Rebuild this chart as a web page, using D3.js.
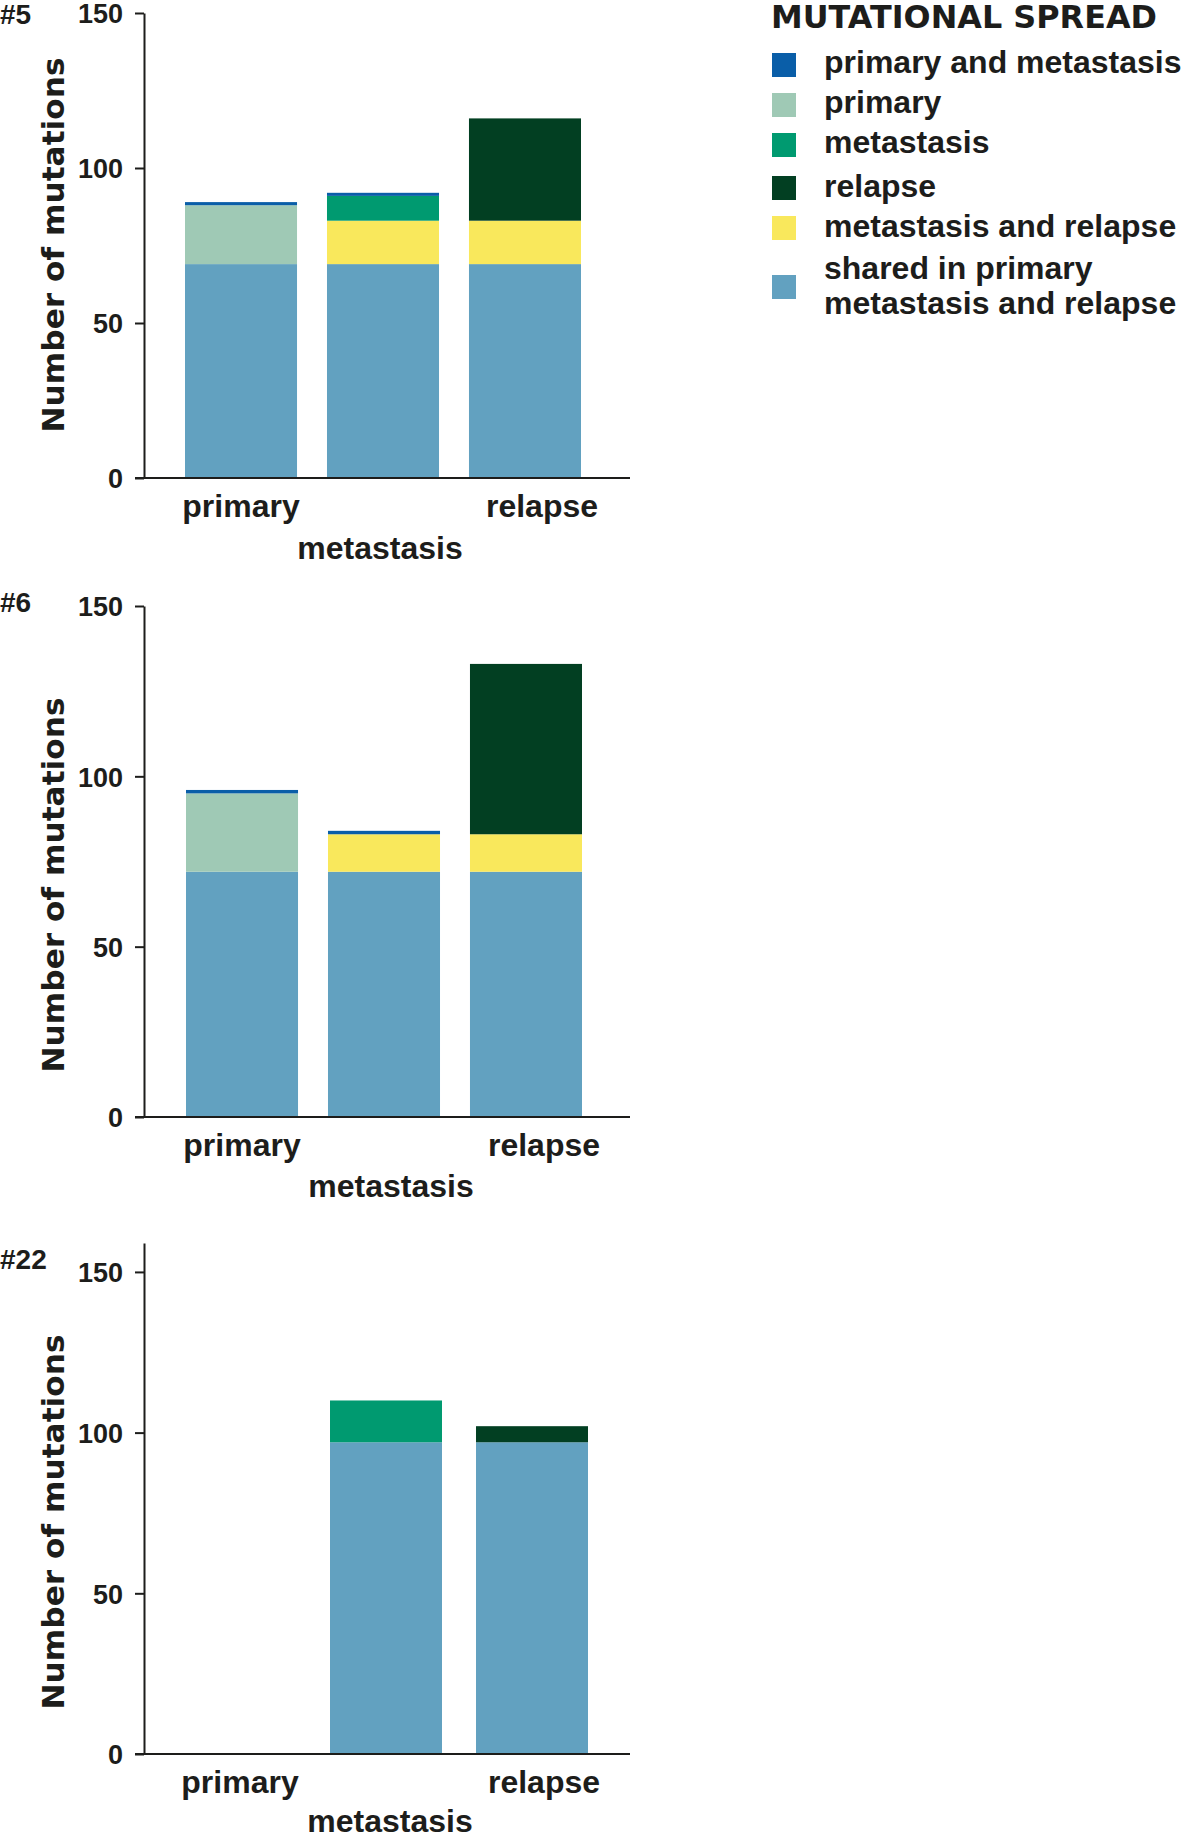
<!DOCTYPE html>
<html>
<head>
<meta charset="utf-8">
<script src="https://cdn.jsdelivr.net/npm/d3@7"></script>
<style>
  html, body { margin: 0; padding: 0; background: #ffffff; }
  svg { display: block; }
</style>
</head>
<body>
<svg id="chart" width="1181" height="1839"></svg>
<script>
// ---------------- DATA ----------------
const categories = ["primary", "metastasis", "relapse"];
const panelNames = ["#5", "#6", "#22"];
const yTicks = [0, 50, 100, 150];

// series values per panel, per category [primary, metastasis, relapse]
const sharedAll   = [[69, 69, 69], [72, 72, 72], [0, 97, 97]];
const metAndRel   = [[0, 14, 14], [0, 11, 11], [0, 0, 0]];
const relapseOnly = [[0, 0, 33], [0, 0, 50], [0, 0, 5]];
const metOnly     = [[0, 8, 0], [0, 0, 0], [0, 13, 0]];
const primaryOnly = [[19, 0, 0], [23, 0, 0], [0, 0, 0]];
const primAndMet  = [[1, 1, 0], [1, 1, 0], [0, 0, 0]];

// legend (top to bottom)
const legendKeys = ["primAndMet", "primaryOnly", "metOnly", "relapseOnly", "metAndRel", "sharedAll"];
const legendLabels = [
  ["primary and metastasis"],
  ["primary"],
  ["metastasis"],
  ["relapse"],
  ["metastasis and relapse"],
  ["shared in primary", "metastasis and relapse"]
];
const legendTitle = "MUTATIONAL SPREAD";
const yLabel = "Number of mutations";

// ---------------- STYLE / LAYOUT ----------------
const colors = {
  primAndMet: "#0a5ea8",
  primaryOnly: "#9fc9b5",
  metOnly: "#009a70",
  relapseOnly: "#023f22",
  metAndRel: "#f9e85c",
  sharedAll: "#62a1c0"
};
const ink = "#1d1d1b";
const series = { sharedAll, metAndRel, relapseOnly, metOnly, primaryOnly, primAndMet };
const stackKeys = legendKeys.slice().reverse(); // bottom-up

const axisX = 144;
const xAxisEnd = 630;
const layout = [
  { top: 13,   zero: 478,  yMax: 150, band: [185, 581], padInner: 0.211, labelCy: 245,  nameBase: 24,   shifts: [0, -3, 17], metDy: 81 },
  { top: 606,  zero: 1117, yMax: 150, band: [186, 582], padInner: 0.211, labelCy: 885,  nameBase: 612,  shifts: [0, 7, 18],  metDy: 80 },
  { top: 1243, zero: 1754, yMax: 159, band: [184, 588], padInner: 0.233, labelCy: 1522, nameBase: 1269, shifts: [0, 4, 12],  metDy: 78 }
];

const svg = d3.select("#chart");
const fontArial = "'Liberation Sans', Arial, Helvetica, sans-serif";
const fontWide = "'DejaVu Sans', Verdana, sans-serif";

layout.forEach((L, pi) => {
  const g = svg.append("g");
  const y = d3.scaleLinear().domain([0, L.yMax]).range([L.zero, L.top]);
  const x = d3.scaleBand().domain(categories).range(L.band).paddingInner(L.padInner).paddingOuter(0);

  const rows = categories.map((c, ci) => {
    const r = { category: c };
    stackKeys.forEach(k => { r[k] = series[k][pi][ci]; });
    return r;
  });
  const stacked = d3.stack().keys(stackKeys)(rows);

  g.selectAll("g.layer").data(stacked).join("g")
    .attr("class", "layer")
    .attr("fill", d => colors[d.key])
    .selectAll("rect").data(d => d).join("rect")
    .attr("x", d => x(d.data.category))
    .attr("width", x.bandwidth())
    .attr("y", d => y(d[1]))
    .attr("height", d => Math.max(0, y(d[0]) - y(d[1])));

  // y axis
  const yAxis = d3.axisLeft(y).tickValues(yTicks).tickSize(9).tickSizeOuter(0).tickPadding(12);
  const ga = g.append("g").attr("transform", `translate(${axisX},0)`).call(yAxis);
  ga.attr("font-family", null).attr("font-size", null);
  ga.select(".domain").attr("stroke", ink).attr("stroke-width", 2);
  ga.selectAll(".tick line").attr("stroke", ink).attr("stroke-width", 2);
  ga.selectAll(".tick text")
    .attr("fill", ink)
    .style("font-family", fontArial)
    .style("font-weight", "bold")
    .style("font-size", "27px")
    .attr("dy", "0.36em");

  // x baseline
  g.append("line")
    .attr("x1", axisX - 9).attr("x2", xAxisEnd)
    .attr("y1", y(0)).attr("y2", y(0))
    .attr("stroke", ink).attr("stroke-width", 2);

  // x category labels (middle one on second line)
  g.selectAll("text.xlab").data(categories).join("text")
    .attr("class", "xlab")
    .attr("x", (d, i) => x(d) + x.bandwidth() / 2 + L.shifts[i])
    .attr("y", (d, i) => y(0) + (i === 1 ? L.metDy : 39))
    .attr("text-anchor", "middle")
    .attr("fill", ink)
    .style("font-family", fontArial)
    .style("font-weight", "bold")
    .style("font-size", "32px")
    .text(d => d);

  // y label
  g.append("text")
    .attr("transform", `translate(64,${L.labelCy}) rotate(-90)`)
    .attr("text-anchor", "middle")
    .attr("fill", ink)
    .style("font-family", fontWide)
    .style("font-weight", "bold")
    .style("font-size", "31px")
    .attr("textLength", 375)
    .attr("lengthAdjust", "spacingAndGlyphs")
    .text(yLabel);

  // panel name
  g.append("text")
    .attr("x", 0).attr("y", L.nameBase)
    .attr("fill", ink)
    .style("font-family", fontArial)
    .style("font-weight", "bold")
    .style("font-size", "28px")
    .text(panelNames[pi]);
});

// ---------------- LEGEND ----------------
const lg = svg.append("g");
lg.append("text")
  .attr("x", 771).attr("y", 28)
  .attr("fill", ink)
  .style("font-family", fontWide)
  .style("font-weight", "bold")
  .style("font-size", "31.5px")
  .attr("textLength", 386)
  .attr("lengthAdjust", "spacingAndGlyphs")
  .text(legendTitle);

const swatchTops = [53, 93, 133, 176, 216, 275];
const textBases = [[73], [113], [153], [197], [237], [279, 314]];
legendKeys.forEach((k, i) => {
  lg.append("rect")
    .attr("x", 772).attr("y", swatchTops[i])
    .attr("width", 24).attr("height", 24)
    .attr("fill", colors[k]);
  legendLabels[i].forEach((line, j) => {
    lg.append("text")
      .attr("x", 824).attr("y", textBases[i][j])
      .attr("fill", ink)
      .style("font-family", fontArial)
      .style("font-weight", "bold")
      .style("font-size", "32px")
      .text(line);
  });
});
</script>
</body>
</html>
